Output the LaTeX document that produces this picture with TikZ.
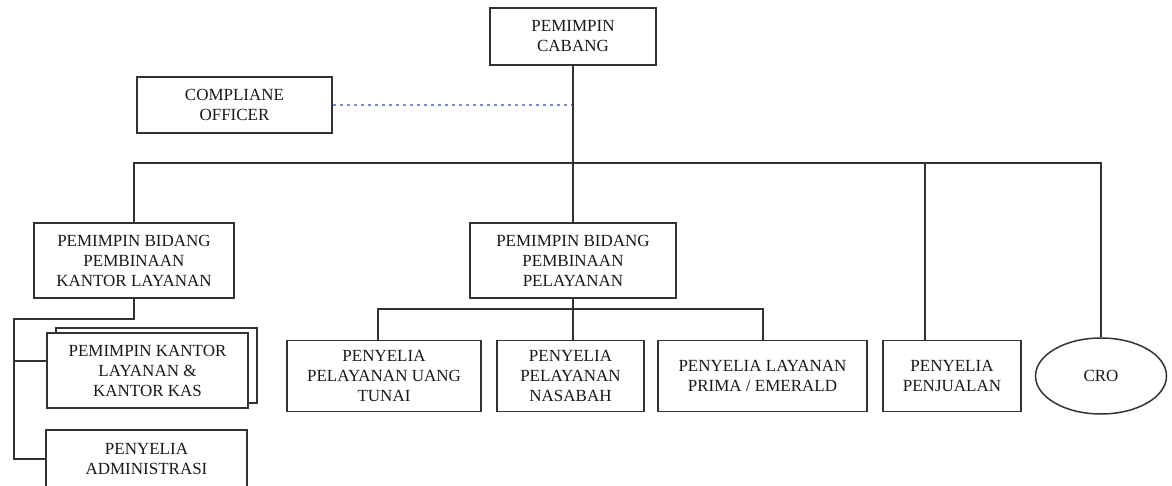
\documentclass[tikz,border=0pt]{standalone}
\usepackage{fontspec}
\setmainfont{Liberation Serif}
\usetikzlibrary{shapes.geometric,shadows}
\definecolor{dotblue}{HTML}{7B8CC0}

\begin{document}
\begin{tikzpicture}[x=1pt, y=-1pt, line width=1.5pt, color=black!80,
                    every node/.style={draw, fill=white, align=center,
                                  inner sep=2pt, text=black!90,
                                  font=\fontsize{17}{20}\selectfont},
                    box/.style={rectangle, minimum width=#1,
                                  minimum height=75pt},
                    dotline/.style={dotblue, line width=1.6pt,
                                  dash pattern=on 3pt off 4pt}]
                      \useasboundingbox (0,0) rectangle (1172,486);

                      \node[box=166pt, minimum height=57pt] (cabang) at (573,36.5) {PEMIMPIN\\CABANG};
                      \node[box=195pt, minimum height=56pt] (comp) at (234.5,105) {COMPLIANE\\OFFICER};
                      \node[box=200pt] (pbkl) at (134,260.5) {PEMIMPIN BIDANG\\PEMBINAAN\\KANTOR LAYANAN};
                      \node[box=206pt] (pbp) at (573,260.5) {PEMIMPIN BIDANG\\PEMBINAAN\\PELAYANAN};

                      \foreach \n/\x/\w/\txt in {uang/384/194/{PENYELIA\\PELAYANAN UANG\\TUNAI},
                              nasabah/570.5/147/{PENYELIA\\PELAYANAN\\NASABAH},
                              prima/762.5/209/{PENYELIA LAYANAN\\PRIMA / EMERALD},
                              jual/952/138/{PENYELIA\\PENJUALAN}} {
                              \node[box=\w pt, minimum height=71pt] (\n) at (\x,376) {\txt};
                          }
                      \node[ellipse, minimum width=131pt, minimum height=76pt] (cro) at (1101,376) {CRO};

                      \node[box=201pt, copy shadow={shadow xshift=9pt, shadow yshift=5pt}] (kantor) at (147.5,370.5) {PEMIMPIN KANTOR\\LAYANAN \&\\KANTOR KAS};
                      \node[box=201pt, minimum height=58pt] (admin) at (146.5,459) {PENYELIA\\ADMINISTRASI};

                      \coordinate (bus) at (573,163);
                      \coordinate (sub) at (573,309);
                      \coordinate (L) at (14,319);

                      \draw[dotline] (comp.east) -- (comp.east -| cabang.south);
                      \draw (cabang.south) -- (pbp.north);
                      \draw (pbkl.north) |- (bus) -| (cro.north);
                      \draw (bus -| 925,0) -- (jual.north -| 925,0);

                      \draw (pbp.south) -- (pbp.south |- nasabah.north);
                      \draw (uang.north -| 378,0) |- (sub) -| (prima.north -| 763,0);

                      \draw (pbkl.south) |- (L) |- (admin.west);
                      \draw (L |- 0,361) -- (kantor.west |- 0,361);
                  \end{tikzpicture}
\end{document}
